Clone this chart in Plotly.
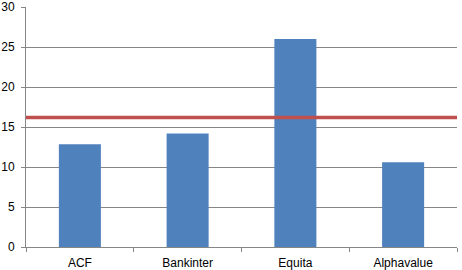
import plotly.graph_objects as go

categories = ["ACF", "Bankinter", "Equita", "Alphavalue"]
values = [12.85, 14.2, 26.0, 10.6]
target = 16.2
y_ticks = [0, 5, 10, 15, 20, 25, 30]

fig = go.Figure()
fig.add_trace(go.Bar(x=categories, y=values, marker=dict(color="#4F81BD", line=dict(width=0)),
                     width=0.39, showlegend=False))
fig.add_shape(type="line", xref="paper", yref="y", x0=0, x1=1, y0=target, y1=target,
              line=dict(color="#C0504D", width=3.5))

axis_color = "#868686"
fig.update_layout(
    width=462, height=270,
    margin=dict(l=26, r=5, t=7, b=23),
    plot_bgcolor="white", paper_bgcolor="white",
    font=dict(family="Liberation Sans, Arial, sans-serif", size=12, color="#000000"),
    xaxis=dict(range=[-0.5, 3.5], showline=True, linecolor=axis_color, linewidth=1,
               ticks="outside", ticklen=4, tickcolor=axis_color, tickson="boundaries",
               showgrid=False, ticklabelstandoff=5, automargin=False),
    yaxis=dict(range=[0, 30], tickvals=y_ticks, showline=True, linecolor=axis_color, linewidth=1,
               ticks="outside", ticklen=4, tickcolor=axis_color,
               showgrid=True, gridcolor=axis_color, gridwidth=1, zeroline=False,
               ticklabelstandoff=4, automargin=False),
    bargap=0.61,
)
fig.write_html("out.html")
